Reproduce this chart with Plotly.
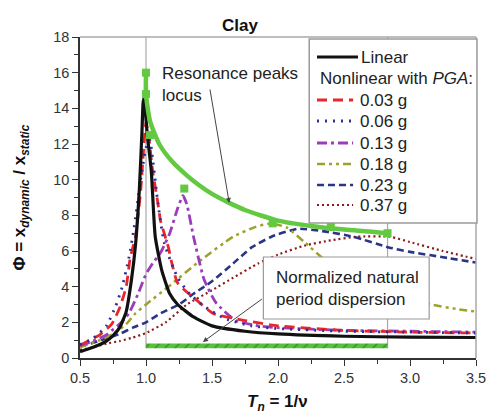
import plotly.graph_objects as go

# ---------------- data ----------------
lin_x = [0.5, 0.6, 0.7, 0.75, 0.8, 0.85, 0.89, 0.92, 0.95, 0.97, 0.98, 0.99, 1.01, 1.04, 1.07, 1.12, 1.18, 1.24, 1.36, 1.5, 1.75, 2.0, 2.5, 3.0, 3.5]
lin_y = [0.35, 0.6, 0.95, 1.25, 1.7, 2.6, 4.4, 6.3, 9.5, 12.8, 14.5, 14.2, 12.5, 10.5, 6.8, 4.9, 3.6, 3.0, 2.3, 1.8, 1.5, 1.35, 1.22, 1.17, 1.15]

g003_x = [0.5, 0.57, 0.65, 0.74, 0.8, 0.85, 0.88, 0.92, 0.96, 0.98, 1.0, 1.02, 1.05, 1.09, 1.11, 1.17, 1.19, 1.24, 1.39, 1.51, 1.75, 2.0, 2.5, 3.0, 3.5]
g003_y = [0.7, 1.0, 1.3, 1.9, 2.8, 4.0, 5.6, 6.8, 9.4, 11.5, 13.2, 12.5, 10.5, 8.7, 7.7, 6.2, 5.5, 4.2, 3.2, 2.5, 2.1, 1.8, 1.55, 1.45, 1.4]

g006_x = [0.5, 0.6, 0.7, 0.77, 0.82, 0.87, 0.91, 0.95, 0.98, 1.0, 1.02, 1.03, 1.05, 1.09, 1.14, 1.24, 1.33, 1.44, 1.6, 1.8, 2.0, 2.5, 3.0, 3.5]
g006_y = [0.75, 1.1, 1.8, 2.9, 4.0, 5.6, 7.3, 9.5, 11.0, 11.8, 12.2, 12.2, 11.2, 8.7, 6.4, 4.5, 3.6, 2.9, 2.2, 1.8, 1.65, 1.5, 1.45, 1.4]

g013_x = [0.5, 0.6, 0.7, 0.75, 0.8, 0.87, 0.94, 1.0, 1.05, 1.11, 1.18, 1.24, 1.28, 1.31, 1.36, 1.44, 1.53, 1.68, 1.85, 2.0, 2.5, 3.0, 3.5]
g013_y = [0.7, 0.95, 1.3, 1.6, 1.9, 2.5, 3.6, 4.7, 5.3, 5.9, 7.0, 8.4, 9.1, 8.6, 6.8, 4.4, 3.1, 2.1, 1.8, 1.7, 1.55, 1.5, 1.45]

g018_x = [0.5, 0.65, 0.75, 0.85, 0.92, 1.0, 1.17, 1.4, 1.66, 1.83, 1.95, 2.07, 2.2, 2.37, 2.5, 2.75, 3.0, 3.16, 3.35, 3.5]
g018_y = [0.6, 1.0, 1.35, 1.9, 2.5, 3.0, 4.0, 5.4, 6.8, 7.35, 7.55, 7.3, 6.5, 5.4, 4.8, 3.9, 3.3, 3.0, 2.75, 2.6]

g023_x = [0.5, 0.6, 0.7, 0.8, 0.9, 1.0, 1.11, 1.25, 1.36, 1.5, 1.66, 1.8, 1.95, 2.15, 2.35, 2.57, 2.84, 3.0, 3.25, 3.5]
g023_y = [0.65, 0.85, 1.1, 1.35, 1.7, 2.0, 2.5, 3.0, 3.6, 4.3, 5.3, 6.2, 6.8, 7.25, 7.1, 6.8, 6.2, 5.95, 5.65, 5.35]

g037_x = [0.5, 0.6, 0.7, 0.8, 0.9, 1.0, 1.15, 1.31, 1.5, 1.66, 1.85, 2.0, 2.2, 2.4, 2.6, 2.85, 3.0, 3.25, 3.5]
g037_y = [0.45, 0.6, 0.8, 0.95, 1.15, 1.4, 2.0, 3.0, 3.8, 4.5, 5.3, 5.8, 6.3, 6.6, 6.8, 6.8, 6.5, 6.0, 5.55]

locus_x = [1.0, 1.0, 1.03, 1.1, 1.2, 1.3, 1.4, 1.5, 1.63, 1.75, 2.0, 2.25, 2.5, 2.83]
locus_y = [16.0, 14.8, 13.3, 12.0, 11.0, 10.3, 9.7, 9.2, 8.7, 8.3, 7.7, 7.4, 7.2, 7.0]

peaks_x = [1.0, 1.0, 1.03, 1.29, 1.96, 2.4, 2.83]
peaks_y = [16.0, 14.8, 12.5, 9.5, 7.55, 7.35, 7.0]

dispersion_x = [1.0, 2.83]
dispersion_y = [0.55, 0.82]

x_ticks = [0.5, 1.0, 1.5, 2.0, 2.5, 3.0, 3.5]
x_tick_labels = ["0.5", "1.0", "1.5", "2.0", "2.5", "3.0", "3.5"]
y_ticks = [0, 2, 4, 6, 8, 10, 12, 14, 16, 18]

legend_labels = ["Linear", "0.03 g", "0.06 g", "0.13 g", "0.18 g", "0.23 g", "0.37 g"]

# ---------------- styles ----------------
FONT = "Liberation Sans, Arial, sans-serif"
styles = [
    dict(color="#111111", width=3.2, dash="solid"),
    dict(color="#e8262b", width=2.8, dash="10px,6px"),
    dict(color="#2b2f9a", width=2.8, dash="2px,6px"),
    dict(color="#9b3dba", width=2.8, dash="10px,4px,3px,4px"),
    dict(color="#9ea12c", width=2.5, dash="8px,4px,3px,4px,3px,4px"),
    dict(color="#2a3585", width=2.6, dash="7px,4px"),
    dict(color="#8e1a1a", width=2.2, dash="2px,3px"),
]
series = [(lin_x, lin_y), (g003_x, g003_y), (g006_x, g006_y), (g013_x, g013_y),
          (g018_x, g018_y), (g023_x, g023_y), (g037_x, g037_y)]

W, H = 497, 417
L, R, T, B = 80, 11, 37, 59
PW, PH = W - L - R, H - T - B


def pxx(px):
    return (px - L) / PW


def pyy(py):
    return (H - B - py) / PH


fig = go.Figure()

# dispersion bar (hatched)
fig.add_trace(go.Scatter(
    x=[dispersion_x[0], dispersion_x[1], dispersion_x[1], dispersion_x[0], dispersion_x[0]],
    y=[dispersion_y[0], dispersion_y[0], dispersion_y[1], dispersion_y[1], dispersion_y[0]],
    fill="toself", mode="lines", line=dict(width=0, color="#55c23a"),
    fillcolor="#55c23a",
    fillpattern=dict(shape="/", fgcolor="#1f5a18", bgcolor="#55c23a", size=7, solidity=0.2),
    showlegend=False, hoverinfo="skip"))

draw_order = [6, 5, 4, 3, 1, 2, 0]
for i in draw_order:
    sx, sy = series[i]
    ln = dict(styles[i])
    ln.update(shape="spline", smoothing=0.5)
    fig.add_trace(go.Scatter(x=sx, y=sy, mode="lines", line=ln,
                             name=legend_labels[i], showlegend=False))

# resonance locus
fig.add_trace(go.Scatter(x=locus_x, y=locus_y, mode="lines",
                         line=dict(color="#62c940", width=4.5, shape="spline", smoothing=0.6),
                         showlegend=False))
fig.add_trace(go.Scatter(x=peaks_x, y=peaks_y, mode="markers",
                         marker=dict(symbol="square", size=8, color="#62c940"),
                         showlegend=False))

shapes = []
for xv in dispersion_x:
    shapes.append(dict(type="line", xref="x", yref="y", x0=xv, x1=xv, y0=dispersion_y[0], y1=18,
                       line=dict(color="#a8a8a8", width=1.2), layer="below"))
shapes.append(dict(type="line", xref="paper", yref="paper", x0=0, x1=1, y0=1, y1=1,
                   line=dict(color="#a8a8a8", width=1.5), layer="above"))
shapes.append(dict(type="line", xref="paper", yref="paper", x0=1, x1=1, y0=0, y1=1,
                   line=dict(color="#a8a8a8", width=1.5), layer="above"))

# legend box
shapes.append(dict(type="rect", xref="paper", yref="paper", x0=pxx(315), x1=pxx(487),
                   y0=pyy(223), y1=pyy(39), fillcolor="white",
                   line=dict(color="#9a9a9a", width=1.5), layer="above"))
# annotation box
shapes.append(dict(type="rect", xref="paper", yref="paper", x0=pxx(268), x1=pxx(438),
                   y0=pyy(319), y1=pyy(257), fillcolor="white",
                   line=dict(color="#9a9a9a", width=1.2), layer="above"))

annotations = []
row_py = [57, 100, 121, 143, 164, 185, 205]
for k, lab in enumerate(legend_labels):
    st = styles[k]
    x0s, x1s = (323, 365) if k == 0 else (323, 360)
    shapes.append(dict(type="line", xref="paper", yref="paper", x0=pxx(x0s), x1=pxx(x1s),
                       y0=pyy(row_py[k]), y1=pyy(row_py[k]),
                       line=dict(color=st["color"], width=st["width"], dash=st["dash"]),
                       layer="above"))
    annotations.append(dict(xref="paper", yref="paper", x=pxx(366 if k == 0 else 365), y=pyy(row_py[k]),
                            text=lab, showarrow=False, xanchor="left", yanchor="middle",
                            font=dict(family=FONT, size=17, color="#222")))
annotations.append(dict(xref="paper", yref="paper", x=pxx(324), y=pyy(78),
                        text="Nonlinear with <i>PGA</i>:", showarrow=False,
                        xanchor="left", yanchor="middle",
                        font=dict(family=FONT, size=17, color="#222")))

# arrows
annotations.append(dict(xref="x", yref="y", axref="x", ayref="y",
                        x=0.5 + (233 - L) / 135.33, y=(H - B - 203) / 17.83,
                        ax=0.5 + (213 - L) / 135.33, ay=(H - B - 88) / 17.83,
                        showarrow=True, arrowhead=2, arrowsize=1, arrowwidth=1,
                        arrowcolor="#444", text=""))
annotations.append(dict(xref="x", yref="y", axref="x", ayref="y",
                        x=0.5 + (206 - L) / 135.33, y=(H - B - 342) / 17.83,
                        ax=0.5 + (268 - L) / 135.33, ay=(H - B - 298) / 17.83,
                        showarrow=True, arrowhead=2, arrowsize=1, arrowwidth=1,
                        arrowcolor="#444", text=""))
annotations.append(dict(xref="paper", yref="paper", x=pxx(162), y=pyy(62),
                        text="Resonance peaks<br>locus", showarrow=False, align="left",
                        xanchor="left", yanchor="top",
                        font=dict(family=FONT, size=17, color="#222")))
annotations.append(dict(xref="paper", yref="paper", x=pxx(279), y=pyy(288),
                        text="Normalized natural<br>period dispersion", showarrow=False, align="left",
                        xanchor="left", yanchor="middle",
                        font=dict(family=FONT, size=17, color="#222")))
annotations.append(dict(xref="paper", yref="paper", x=pxx(244), y=pyy(25),
                        text="<b>Clay</b>", showarrow=False, xanchor="center", yanchor="middle",
                        font=dict(family=FONT, size=17, color="#111")))
annotations.append(dict(xref="paper", yref="paper", x=pxx(20), y=pyy(197),
                        text="<b>Φ = x<sub><i>dynamic</i></sub> / x<sub><i>static</i></sub></b>",
                        showarrow=False, textangle=-90, xanchor="center", yanchor="middle",
                        font=dict(family=FONT, size=17, color="#111")))
annotations.append(dict(xref="paper", yref="paper", x=pxx(282), y=pyy(403),
                        text="<b><i>T</i><sub><i>n</i></sub> = 1/ν</b>",
                        showarrow=False, xanchor="center", yanchor="middle",
                        font=dict(family=FONT, size=17, color="#111")))

fig.update_layout(
    width=W, height=H, margin=dict(l=L, r=R, t=T, b=B),
    paper_bgcolor="white", plot_bgcolor="white",
    shapes=shapes, annotations=annotations, showlegend=False,
    font=dict(family=FONT, size=14, color="#333"),
)
fig.update_xaxes(range=[0.5, 3.5], tickvals=x_ticks, ticktext=x_tick_labels,
                 showgrid=False, zeroline=False, showline=True, linecolor="#333", linewidth=1.5,
                 ticks="outside", ticklen=6, tickwidth=1.3, tickcolor="#333",
                 minor=dict(ticks="outside", dtick=0.25, tick0=0.5, ticklen=4, tickcolor="#333", tickwidth=1.2),
                 tickfont=dict(family=FONT, size=14.5, color="#333"))
fig.update_yaxes(range=[0, 18], tickvals=y_ticks,
                 showgrid=False, zeroline=False, showline=True, linecolor="#333", linewidth=1.5,
                 ticks="outside", ticklen=6, tickwidth=1.3, tickcolor="#333",
                 minor=dict(ticks="outside", dtick=1, tick0=0, ticklen=4, tickcolor="#333", tickwidth=1.2),
                 tickfont=dict(family=FONT, size=14.5, color="#333"))

fig.write_html("out.html")
